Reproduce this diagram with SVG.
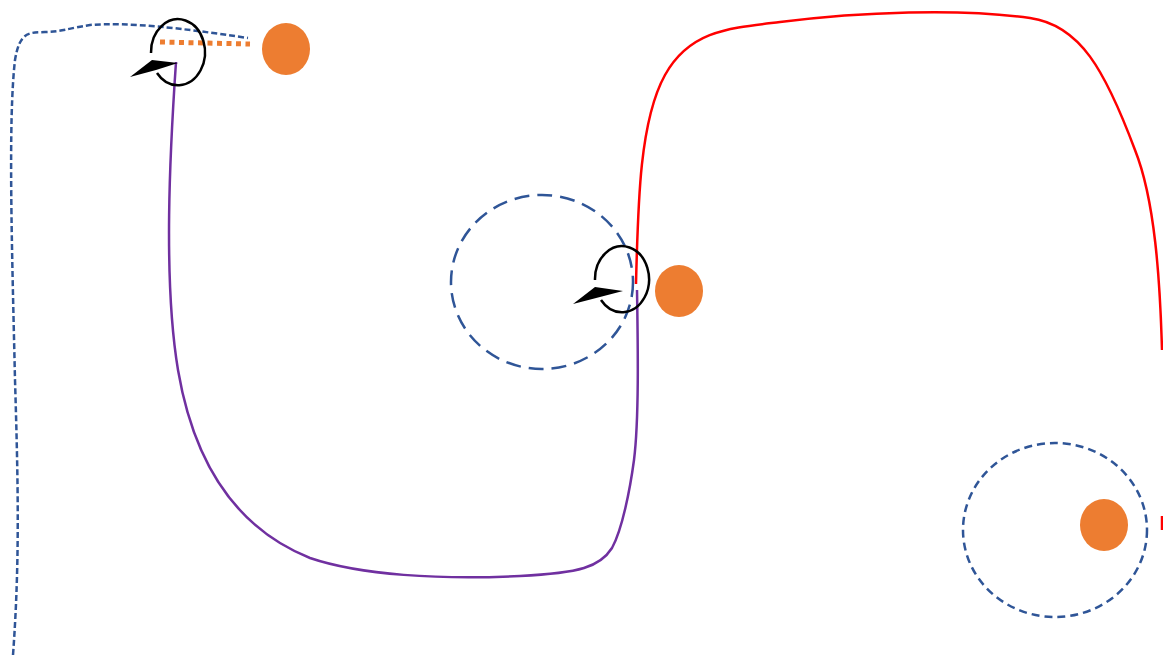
<svg xmlns="http://www.w3.org/2000/svg" width="1163" height="655" viewBox="0 0 1163 655">
<style>
.blue{fill:none;stroke:#2F5597;stroke-width:2.5}
.dot{fill:#ED7D31}
.loop{fill:none;stroke:#000;stroke-width:2.5}
</style>
<rect width="1163" height="655" fill="#fff"/>
<g id="connectors">
<path class="blue" stroke-dasharray="6 3" d="M 13 655 C 20 560, 18 480, 15 380 C 12 250, 8 120, 15 60 C 20 30, 30 33, 45 32 C 60 32, 70 28, 90 25 C 130 22, 180 28, 248 38"/>
<path fill="none" stroke="#ED7D31" stroke-width="5" stroke-dasharray="5 4.5" d="M 160 42 L 250 44"/>
<path fill="none" stroke="#7030A0" stroke-width="2.5" d="M 176 62 C 170 150, 163 280, 178 370 C 195 470, 240 530, 310 558 C 360 575, 440 580, 520 576 C 580 573, 600 567, 612 548 C 622 530, 630 490, 634 460 C 639 420, 638 350, 637 290"/>
<path fill="none" stroke="#FF0000" stroke-width="2.5" d="M 636 284 C 638 200, 640 120, 665 75 C 690 30, 730 28, 780 22 C 860 12, 960 8, 1030 18 C 1080 25, 1105 70, 1135 150 C 1155 200, 1160 280, 1162 350"/>
<path fill="none" stroke="#FF0000" stroke-width="2.5" d="M 1162 516 L 1162 530"/>
</g>
<g id="circle1">
<ellipse class="blue" cx="542" cy="282" rx="91" ry="87" stroke-dasharray="15 8"/>
</g>
<g id="circle2">
<ellipse class="blue" cx="1055" cy="530" rx="92" ry="87" stroke-dasharray="8 5"/>
</g>
<g id="node1"><ellipse class="dot" cx="286" cy="49" rx="24" ry="26"/></g>
<g id="node2"><ellipse class="dot" cx="679" cy="291" rx="24" ry="26"/></g>
<g id="node3"><ellipse class="dot" cx="1104" cy="525" rx="24" ry="26"/></g>
<g id="loop1">
<path class="loop" d="M 151 53 A 27 33 0 1 1 157 73"/>
<polygon points="130,77 152,60 178,63 156,70" fill="#000"/>
</g>
<g id="loop2">
<path class="loop" d="M 595 280 A 27 33 0 1 1 601 300"/>
<polygon points="573,304 595,287 623,291 600,297" fill="#000"/>
</g>
</svg>
